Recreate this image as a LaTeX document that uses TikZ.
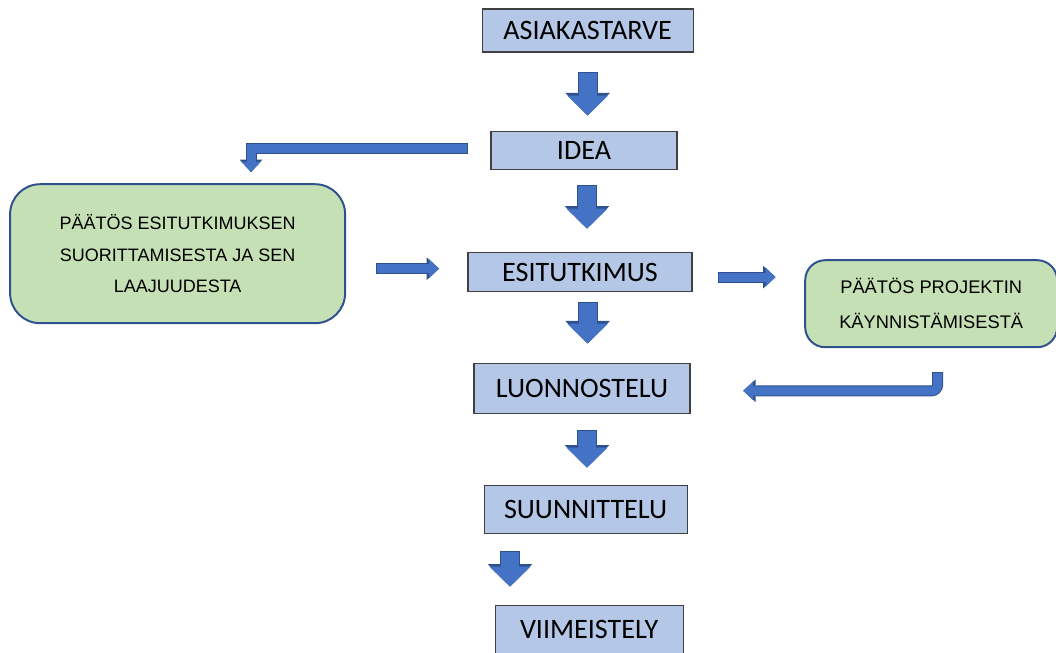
\documentclass[tikz,border=0pt]{standalone}
\usepackage{fontspec}
\setmainfont{Carlito}
\newfontfamily\arialfont{Liberation Sans}
\usepackage{xcolor}
\usetikzlibrary{positioning, arrows.meta}

\definecolor{boxfill}{HTML}{B4C7E7}
\definecolor{boxedge}{HTML}{404040}
\definecolor{greenfill}{HTML}{C5E0B4}
\definecolor{greenedge}{HTML}{2F528F}
\definecolor{arrowfill}{HTML}{4472C4}
\definecolor{arrowedge}{HTML}{2F528F}

\begin{document}
\begin{tikzpicture}[node distance = 3cm, on grid,
    phase/.style={draw=boxedge, fill=boxfill, line width=0.8pt, inner sep=0pt, font=\fontsize{20}{24}\selectfont},
    ruling/.style={draw=greenedge, fill=greenfill, line width=1.4pt, inner sep=0pt, align=center},
    downarrow/.style={draw=arrowfill, line width=0.45cm, -{Triangle[width=1.025cm, length=0.5cm, line width=0pt]},
        preaction={draw=arrowedge, line width=0.5cm, shorten <=-0.7pt, -{Triangle[width=1.115cm, length=0.565cm, line width=0pt]}}},
    sidearrow/.style={draw=arrowfill, line width=0.225cm, -{Triangle[width=0.475cm, length=0.25cm, line width=0pt]},
        preaction={draw=arrowedge, line width=0.275cm, shorten <=-0.7pt, -{Triangle[width=0.565cm, length=0.31cm, line width=0pt]}}}]
    \useasboundingbox (0,0) rectangle (26.4,-16.3);

    \node[phase, minimum width=5.275cm, minimum height=1.075cm] (asiakastarve) at (14.69,-0.7625) {ASIAKASTARVE};
    \node[phase, minimum width=4.65cm, minimum height=0.95cm]   (idea)        [below = 2.99cm of asiakastarve, xshift=-0.09cm] {IDEA};
    \node[phase, minimum width=5.6cm, minimum height=0.975cm]   (esitutkimus) [below = 3.05cm of idea, xshift=-0.1cm] {ESITUTKIMUS};
    \node[phase, minimum width=5.4cm, minimum height=1.25cm]    (luonnostelu) [below = 2.9cm of esitutkimus, xshift=0.05cm] {LUONNOSTELU};
    \node[phase, minimum width=5.075cm, minimum height=1.2cm]   (suunnittelu) [below = 3.025cm of luonnostelu, xshift=0.09cm] {SUUNNITTELU};
    \node[phase, minimum width=4.7cm, minimum height=1.2cm]     (viimeistely) [below = 3cm of suunnittelu, xshift=0.09cm] {VIIMEISTELY};

    %paatokset
    \node[ruling, minimum width=8.375cm, minimum height=3.475cm, rounded corners=0.75cm,
        font=\arialfont\fontsize{12.8}{22.2}\selectfont] (paatosesi)
        [left = 10.06cm of esitutkimus, yshift=0.46cm]
        {P\"A\"AT\"OS ESITUTKIMUKSEN\\SUORITTAMISESTA JA SEN\\LAAJUUDESTA};
    \node[ruling, minimum width=6.3cm, minimum height=2.175cm, rounded corners=0.5cm,
        font=\arialfont\fontsize{13}{25.2}\selectfont] (paatosproj)
        [right = 8.78cm of esitutkimus, yshift=-0.79cm]
        {P\"A\"AT\"OS PROJEKTIN\\K\"AYNNIST\"AMISEST\"A};

    \draw[downarrow] ([yshift=-0.5cm]asiakastarve.south) -- ++(0,-1.075);
    \draw[downarrow] ([xshift=0.075cm, yshift=-0.4cm]idea.south) -- ++(0,-1.075);
    \draw[downarrow] ([xshift=0.19cm, yshift=-0.26cm]esitutkimus.south) -- ++(0,-1.025);
    \draw[downarrow] ([xshift=0.125cm, yshift=-0.425cm]luonnostelu.south) -- ++(0,-0.925);
    \draw[downarrow] ([xshift=-1.89cm, yshift=-0.45cm]suunnittelu.south) -- ++(0,-0.875);

    \draw[sidearrow] ([xshift=-0.575cm, yshift=0.04cm]idea.west) -- ++(-5.41,0) -- ++(0,-0.59);
    \draw[sidearrow] ([xshift=0.775cm, yshift=-0.375cm]paatosesi.east) -- ++(1.55,0);
    \draw[sidearrow] ([xshift=0.65cm, yshift=-0.125cm]esitutkimus.east) -- ++(1.425,0);
    \draw[sidearrow, rounded corners=0.15cm] ([xshift=0.16cm, yshift=-0.625cm]paatosproj.south) -- ++(0,-0.44) -- ++(-4.86,0);
\end{tikzpicture}
\end{document}
